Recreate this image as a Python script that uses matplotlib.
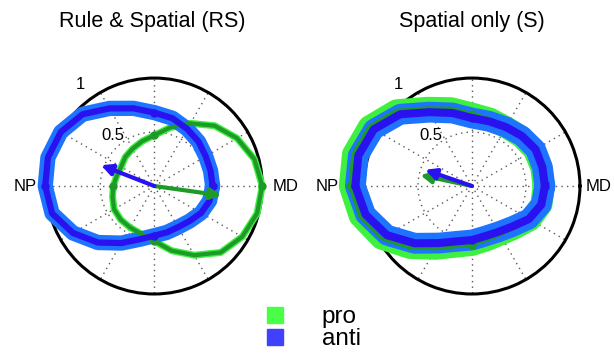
import numpy as np
import matplotlib
matplotlib.use("Agg")
import matplotlib.pyplot as plt
from matplotlib.lines import Line2D

plt.rcParams['font.family'] = ['Liberation Sans', 'DejaVu Sans']

# direction of each value (degrees), MD = 0, NP = 180
angles_deg = list(range(0, 360, 15))

# Rule & Spatial (RS)
rs_pro = [1.00, 0.96, 0.885, 0.79, 0.67, 0.56, 0.47, 0.43, 0.40, 0.38, 0.355, 0.36,
          0.38, 0.40, 0.43, 0.44, 0.445, 0.46, 0.51, 0.62, 0.74, 0.87, 0.94, 0.985]
rs_anti = [0.54, 0.54, 0.55, 0.58, 0.61, 0.65, 0.68, 0.745, 0.83, 0.94, 1.00, 1.02,
           1.01, 0.98, 0.87, 0.74, 0.61, 0.51, 0.46, 0.445, 0.44, 0.46, 0.50, 0.53]
rs_pro_vec = (-8, 0.63)      # angle (deg), length
rs_anti_vec = (158.6, 0.53)

# Spatial only (S)
s_pro = [0.665, 0.665, 0.665, 0.645, 0.63, 0.645, 0.67, 0.745, 0.835, 0.99, 1.10, 1.14,
         1.13, 1.075, 0.97, 0.81, 0.67, 0.58, 0.545, 0.52, 0.52, 0.555, 0.625, 0.665]
s_anti = [0.675, 0.675, 0.68, 0.655, 0.63, 0.62, 0.63, 0.70, 0.79, 0.94, 1.05, 1.09,
          1.08, 1.02, 0.91, 0.75, 0.61, 0.53, 0.50, 0.48, 0.49, 0.53, 0.61, 0.665]
s_pro_vec = (168, 0.49)
s_anti_vec = (161, 0.46)

titles = ['Rule & Spatial (RS)', 'Spatial only (S)']
r_ticks = [0.5, 1]
r_tick_labels = ['0.5', '1']

light_green = '#3ff03f'
dark_green = '#1d9a28'
light_blue = '#1f74ff'
dark_blue = '#2a12f0'


def closed(vals):
    th = np.deg2rad(angles_deg + [360])
    return th, list(vals) + [vals[0]]


def draw_panel(ax, pro, anti, pro_vec, anti_vec, pro_w, anti_w, np_r, md_r):
    ax.set_ylim(0, 1)
    ax.set_yticks(r_ticks)
    ax.set_yticklabels([])
    ax.set_xticks(np.deg2rad(range(0, 360, 30)))
    ax.set_xticklabels([])
    ax.grid(True, linestyle=(0, (1, 3)), color='0.35', linewidth=1.0)
    ax.spines['polar'].set_linewidth(2.2)
    ax.spines['polar'].set_color('black')
    ax.spines['polar'].set_zorder(2)

    ax.text(np.deg2rad(128.8), 0.605, r_tick_labels[0], fontsize=12,
            ha='center', va='center')
    ax.text(np.deg2rad(126.2), 1.16, r_tick_labels[1], fontsize=12,
            ha='center', va='center', clip_on=False)
    ax.text(np.pi, np_r, 'NP', fontsize=12, ha='center', va='center',
            clip_on=False, zorder=6)
    ax.text(0, md_r, 'MD', fontsize=12, ha='center', va='center',
            clip_on=False, zorder=6)

    # shaded bands
    th, r = closed(pro)
    ax.plot(th, r, color=light_green, lw=pro_w[0], solid_joinstyle='round',
            solid_capstyle='round', clip_on=False, zorder=3)
    th, r = closed(anti)
    ax.plot(th, r, color=light_blue, lw=anti_w[0], solid_joinstyle='round',
            solid_capstyle='round', clip_on=False, zorder=3)
    # mean lines
    th, r = closed(pro)
    ax.plot(th, r, color=dark_green, lw=pro_w[1], solid_joinstyle='round',
            clip_on=False, zorder=4)
    ax.plot(np.deg2rad(angles_deg[::6]), pro[::6], 'o', color=dark_green,
            ms=5, clip_on=False, zorder=4)
    th, r = closed(anti)
    ax.plot(th, r, color=dark_blue, lw=anti_w[1], solid_joinstyle='round',
            clip_on=False, zorder=4)
    ax.plot(np.deg2rad(angles_deg[::6]), anti[::6], 'o', color=dark_blue,
            ms=5, clip_on=False, zorder=4)

    for vec, col in [(pro_vec, dark_green), (anti_vec, dark_blue)]:
        a = np.deg2rad(vec[0])
        ax.annotate('', xy=(a, vec[1]), xytext=(a, 0),
                    arrowprops=dict(arrowstyle='-|>', color=col, lw=3,
                                    mutation_scale=16, shrinkA=0, shrinkB=0),
                    zorder=5)


fig = plt.figure(figsize=(6.14, 3.54), dpi=100)
ax1 = fig.add_axes([0.0754, 0.1695, 0.3518, 0.610], projection='polar')
ax2 = fig.add_axes([0.5928, 0.1695, 0.3518, 0.610], projection='polar')

draw_panel(ax1, rs_pro, rs_anti, rs_pro_vec, rs_anti_vec, (5, 3), (11, 4.5), 1.2, 1.22)
draw_panel(ax2, s_pro, s_anti, s_pro_vec, s_anti_vec, (16, 2.5), (15, 5.8), 1.34, 1.17)

fig.text(0.2476, 0.94, titles[0], fontsize=15.5, ha='center', va='center')
fig.text(0.769, 0.94, titles[1], fontsize=15.5, ha='center', va='center')

handles = [Line2D([], [], marker='s', ls='', ms=12, color='#46ff46'),
           Line2D([], [], marker='s', ls='', ms=12, color='#4040ff')]
fig.legend(handles, ['pro', 'anti'], loc='center', bbox_to_anchor=(0.498, 0.073),
           frameon=False, fontsize=17.5, handletextpad=0.9, labelspacing=0.0,
           borderpad=0)

fig.savefig('out.png', dpi=100)
